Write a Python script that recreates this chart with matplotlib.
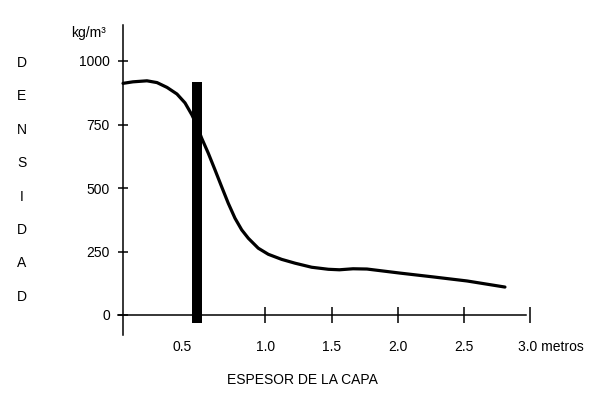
import matplotlib
matplotlib.use('Agg')
import matplotlib.pyplot as plt
from matplotlib import font_manager

# narrow face if there is one, like the printed original
names = {f.name for f in font_manager.fontManager.ttflist}
font_size = 10.5
family = 'DejaVu Sans'
for cand, size in [('Liberation Sans Narrow', 10.5), ('DejaVu Sans Condensed', 10),
                   ('Liberation Sans', 10)]:
    if cand in names:
        family, font_size = cand, size
        break
plt.rcParams['font.family'] = [family, 'DejaVu Sans']

# curve (metros, kg/m3)
espesor = [-0.077, -0.002, 0.104, 0.180, 0.256, 0.331, 0.392, 0.445, 0.483,
           0.518, 0.568, 0.619, 0.669, 0.719, 0.770, 0.821, 0.871, 0.946,
           1.022, 1.123, 1.224, 1.350, 1.476, 1.560, 1.663, 1.768, 2.018,
           2.268, 2.525, 2.812]
densidad = [912, 918, 922, 915, 896, 870, 835, 787, 744,
            696, 637, 571, 505, 440, 381, 335, 302, 263,
            239, 219, 204, 188, 180, 178, 182, 181, 165,
            150, 134, 110]

# thick marker bar
bar_x = 0.483
bar_w = 0.076
bar_bottom = -31
bar_top = 917

y_ticks = [0, 250, 500, 750, 1000]
x_ticks = [1.0, 1.5, 2.0, 2.5, 3.0]
x_labels = ['1.0', '1.5', '2.0', '2.5', '3.0 metros']
letters = list('DENSIDAD')

W, H = 600, 398
fig = plt.figure(figsize=(6, 3.98), dpi=100)
ax = fig.add_axes([0, 0, 1, 1])

# pixel -> data mapping
x0, xs = 133.2, 132.2
y0, ys = 315, 0.254
ax.set_xlim((0 - x0) / xs, (W - x0) / xs)
ax.set_ylim((y0 - H) / ys, (y0 - 0) / ys)

ax.plot(espesor, densidad, color='black', lw=2.3, solid_capstyle='round',
        solid_joinstyle='round')
ax.bar([bar_x], [bar_top - bar_bottom], width=bar_w, bottom=bar_bottom,
       color='black')

for s in ['top', 'right']:
    ax.spines[s].set_visible(False)
ax.spines['left'].set_position(('axes', 123 / W))
ax.spines['bottom'].set_position(('data', 0))
ax.spines['left'].set_bounds(-79, 1142)
ax.spines['bottom'].set_bounds((118 - x0) / xs, (526 - x0) / xs)
ax.spines['left'].set_linewidth(1.1)
ax.spines['bottom'].set_linewidth(1.1)

ax.set_yticks(y_ticks)
ax.set_yticklabels([str(v) for v in y_ticks])
ax.tick_params(axis='y', direction='inout', length=7, width=1.1, pad=6,
               labelsize=font_size)

ax.set_xticks(x_ticks)
ax.set_xticklabels(['' for v in x_ticks])
ax.tick_params(axis='x', direction='inout', length=11, width=1.1)

lab_y = (y0 - 347) / ys
for v, lab in zip(x_ticks, x_labels):
    if lab.endswith('metros'):
        ax.text((518 - x0) / xs, lab_y, lab, ha='left', va='center',
                fontsize=font_size)
    else:
        ax.text(v, lab_y, lab, ha='center', va='center', fontsize=font_size)
ax.text((182 - x0) / xs, lab_y, '0.5', ha='center', va='center',
        fontsize=font_size)

ax.text(302 / W, 1 - 380 / H, 'ESPESOR DE LA CAPA', transform=fig.transFigure,
        ha='center', va='center', fontsize=font_size)
ax.text(89 / W, 1 - 33 / H, 'kg/m³', transform=fig.transFigure,
        ha='center', va='center', fontsize=font_size)

for i, ch in enumerate(letters):
    ax.text(22 / W, 1 - (63 + i * 33.4) / H, ch, transform=fig.transFigure,
            ha='center', va='center', fontsize=font_size)

fig.savefig('out.png', dpi=100, facecolor='white')
